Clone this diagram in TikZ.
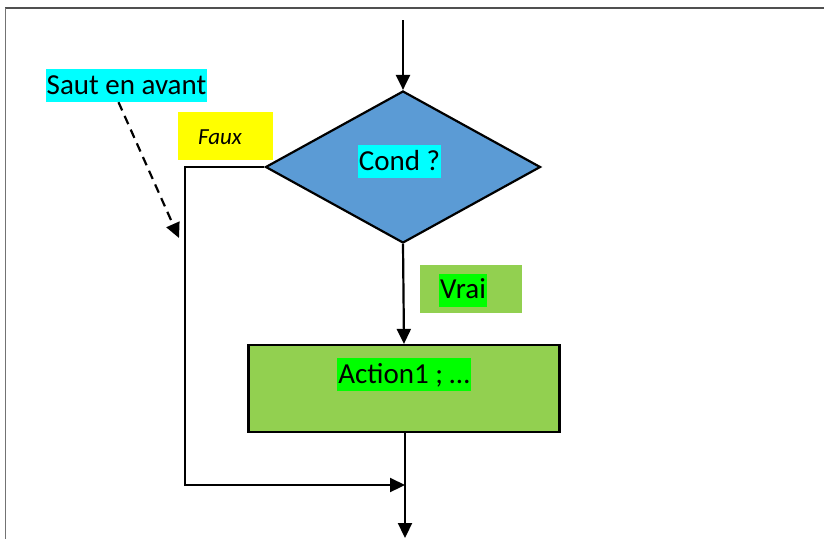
\documentclass[tikz,border=0pt]{standalone}
\usepackage{fontspec}
\setmainfont{Carlito}
\usetikzlibrary{arrows.meta,shapes.geometric}
\definecolor{blueD}{HTML}{5B9BD5}
\definecolor{greenA}{HTML}{92D050}
\definecolor{hlgreen}{HTML}{00FF00}
\definecolor{hlcyan}{HTML}{00FFFF}
\definecolor{hlyellow}{HTML}{FFFF00}
\definecolor{frame}{HTML}{505050}
\tikzset{
  conn/.style={line width=2.2pt,draw=black},
  arr/.style={conn,-{Triangle[length=15pt,width=14pt]}},
  hl/.style={inner xsep=1pt,inner ysep=0pt,text height=25pt,text depth=8pt,font=\fontsize{29}{31}\selectfont},
}
\begin{document}
\begin{tikzpicture}[x=1pt,y=-1pt]
\useasboundingbox (0,0) rectangle (824,539);
% frame
\draw[frame,line width=2pt] (5,8) -- (824,8);
\draw[frame!80,line width=1pt] (5,8) -- (5,539);
% nodes
\node[diamond,draw=black,line width=2.2pt,fill=blueD,inner sep=0pt,minimum width=275pt,minimum height=152pt] (cond) at (403,167) {};
\node[hl,fill=hlcyan] (condt) at (399.5,161.5) {Cond ?};
\node[draw=black,line width=2.2pt,fill=greenA,minimum width=311pt,minimum height=87pt,inner sep=0pt] (act) at (404,388.5) {};
\node[hl,fill=hlgreen] (actt) at (404,374.5) {Action1 ; …};
\node[fill=greenA,minimum width=102pt,minimum height=48pt,inner sep=0pt] (vraibox) at (471,289) {};
\node[hl,fill=hlgreen] (vrai) at (463,290) {Vrai};
\node[fill=hlyellow,minimum width=95pt,minimum height=48pt,inner sep=0pt] (fauxbox) at (225.5,136) {};
\node[font=\fontsize{23}{26}\selectfont\itshape,inner sep=0pt] (faux) at (220,137) {Faux};
\node[hl,fill=hlcyan] (saut) at (126.5,85.5) {Saut en avant};
% coordinates
\coordinate (top) at (403,20);
\coordinate (fl) at (185,167);
\coordinate (j) at (405,485);
\coordinate (end) at (405,538);
\coordinate (dend) at (179,238);
% connectors
\draw[arr] (top) -- (cond.north);
\draw[arr] (cond.south) -- (act.north);
\draw[arr] (act.south -| end) -- (end);
\draw[arr] (cond.west) -- (fl) |- (j);
\draw[arr,dash pattern=on 9pt off 6pt] ([xshift=-8pt]saut.south) -- (dend);
\end{tikzpicture}
\end{document}
